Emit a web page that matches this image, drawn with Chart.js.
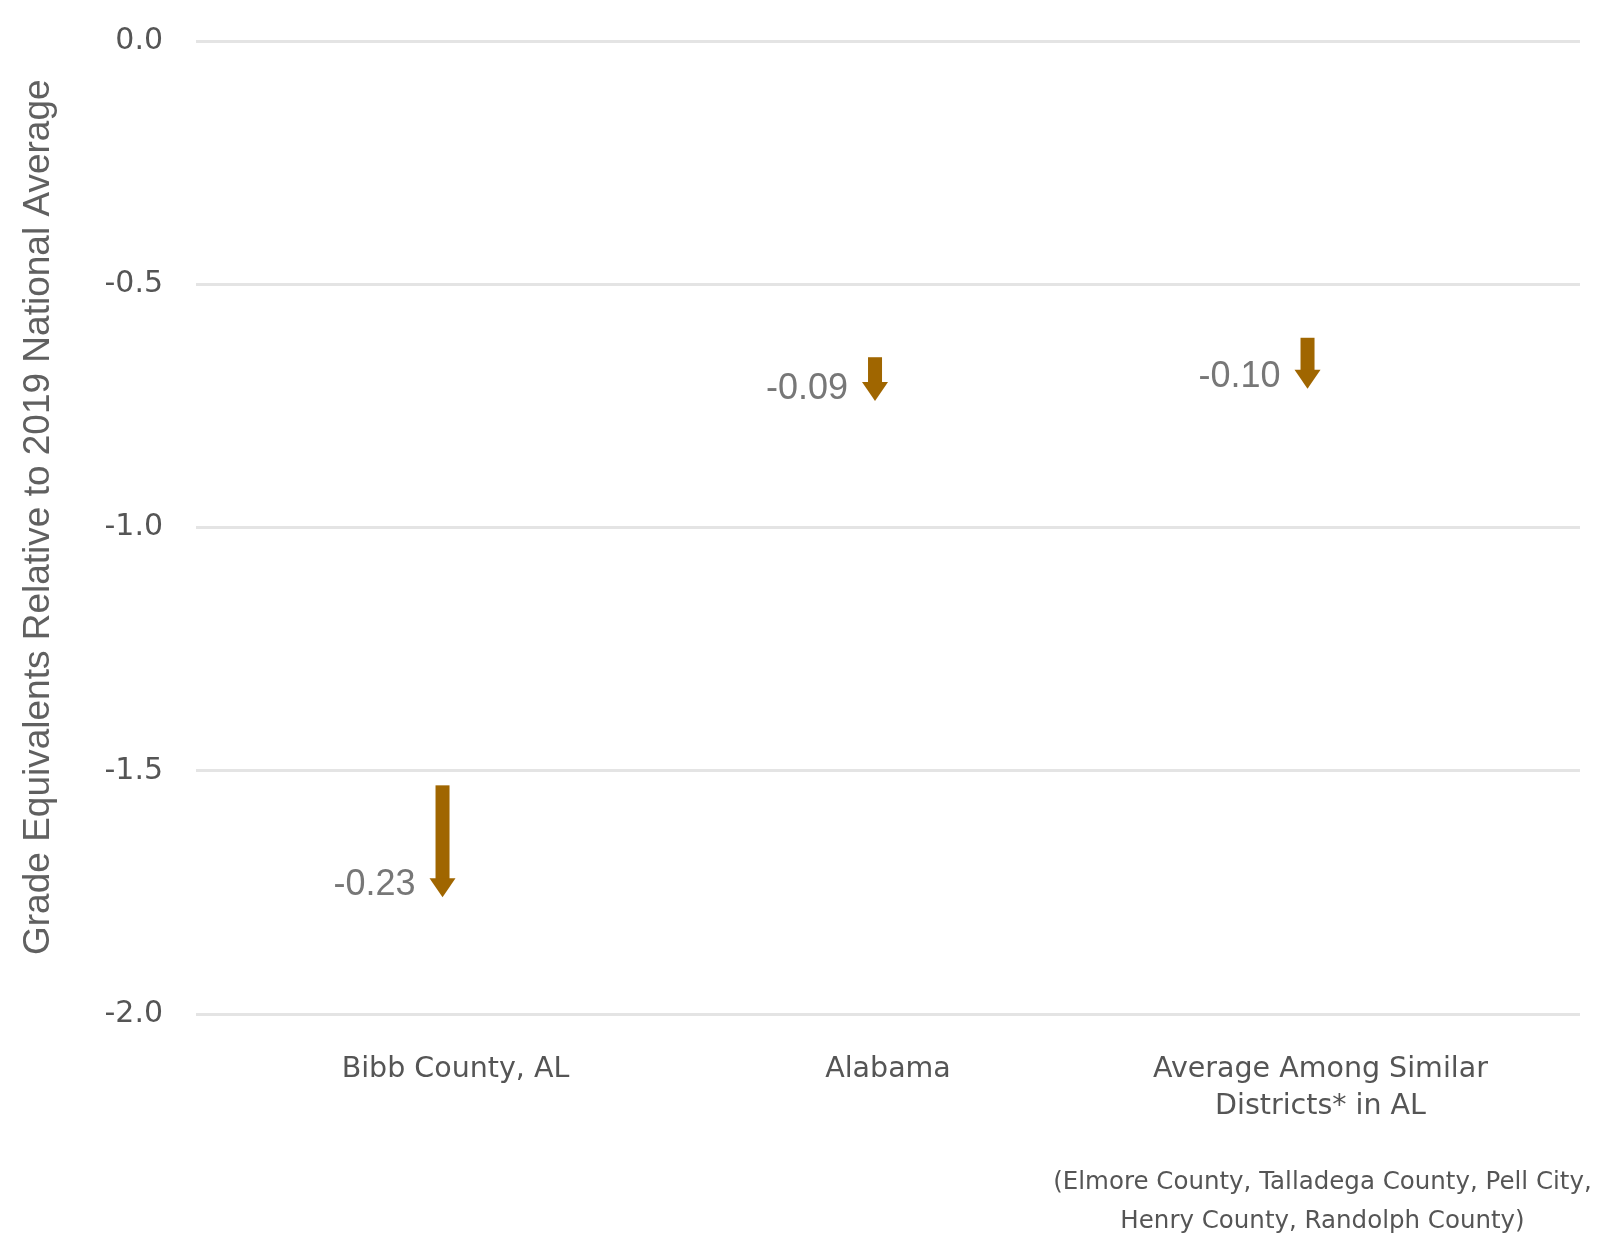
<!DOCTYPE html>
<html>
<head>
<meta charset="utf-8">
<script src="https://cdn.jsdelivr.net/npm/chart.js@4.4.1/dist/chart.umd.min.js"></script>
<style>
  html, body { margin: 0; padding: 0; background: #fff; }
  #wrap { width: 1600px; height: 1234px; }
</style>
</head>
<body>
<div id="wrap"><canvas id="chart"></canvas></div>
<script>
// data
const categories = ['Bibb County, AL', 'Alabama', ['Average Among Similar', 'Districts* in AL']];
const categoryTicks = [1, 2, 3];
const arrowX = [0.97, 1.97, 2.97];
const startValues = [-1.53, -0.65, -0.61];
const endValues = [-1.76, -0.74, -0.715];
const changeLabels = ['-0.23', '-0.09', '-0.10'];
const yTicks = [0, -0.5, -1.0, -1.5, -2.0];
const footnote = ['(Elmore County, Talladega County, Pell City,', 'Henry County, Randolph County)'];

const ARROW_COLOR = '#a06600';
const HEAD_LEN = 19;
const HEAD_W = 26;

// bar element drawn as a down arrow (shaft + triangular head)
class ArrowElement extends Chart.BarElement {
  draw(ctx) {
    const { x, y, base, width } = this.getProps(['x', 'y', 'base', 'width']);
    const tail = Math.min(y, base);
    const tip = Math.max(y, base);
    ctx.save();
    ctx.fillStyle = this.options.backgroundColor;
    ctx.fillRect(x - width / 2, tail, width, tip - HEAD_LEN - tail + 1);
    ctx.beginPath();
    ctx.moveTo(x - HEAD_W / 2, tip - HEAD_LEN);
    ctx.lineTo(x + HEAD_W / 2, tip - HEAD_LEN);
    ctx.lineTo(x, tip);
    ctx.closePath();
    ctx.fill();
    ctx.restore();
  }
}
ArrowElement.id = 'arrowShape';

class ArrowController extends Chart.BarController {}
ArrowController.id = 'arrow';
ArrowController.defaults = { ...Chart.BarController.defaults, dataElementType: 'arrowShape' };

Chart.register(ArrowElement, ArrowController);

const changeLabelPlugin = {
  id: 'changeLabels',
  afterDatasetsDraw(chart) {
    const meta = chart.getDatasetMeta(0);
    const y = chart.scales.y;
    const ctx = chart.ctx;
    ctx.save();
    ctx.font = '36px "Liberation Sans", Arial, sans-serif';
    ctx.fillStyle = '#777777';
    ctx.textAlign = 'right';
    ctx.textBaseline = 'middle';
    meta.data.forEach((bar, i) => {
      const tip = y.getPixelForValue(endValues[i]);
      ctx.fillText(changeLabels[i], bar.x - 27, tip - 12);
    });
    ctx.restore();
  }
};

const footnotePlugin = {
  id: 'footnote',
  afterDraw(chart) {
    const ctx = chart.ctx;
    const cx = chart.scales.x.getPixelForValue(categoryTicks[2]) + 2;
    const top = chart.chartArea.bottom;
    ctx.save();
    ctx.font = '24.5px "DejaVu Sans", sans-serif';
    ctx.fillStyle = '#555555';
    ctx.textAlign = 'center';
    ctx.textBaseline = 'middle';
    footnote.forEach((line, i) => ctx.fillText(line, cx, top + 169 + i * 39));
    ctx.restore();
  }
};

new Chart(document.getElementById('chart'), {
  type: 'arrow',
  data: {
    datasets: [{
      label: 'Change',
      data: arrowX.map((x, i) => ({ x: x, y: [startValues[i], endValues[i]] })),
      backgroundColor: ARROW_COLOR,
      barThickness: 14
    }]
  },
  options: {
    responsive: true,
    maintainAspectRatio: false,
    animation: false,
    layout: { padding: { left: 17, right: 20, top: 41, bottom: 0 } },
    plugins: {
      legend: { display: false },
      tooltip: { enabled: false }
    },
    scales: {
      x: {
        type: 'linear',
        min: 0.4,
        max: 3.6,
        offset: false,
        grid: { display: false },
        border: { display: false },
        afterBuildTicks: scale => { scale.ticks = categoryTicks.map(v => ({ value: v })); },
        afterFit: scale => { scale.height = 220; },
        ticks: {
          autoSkip: false,
          maxRotation: 0,
          padding: 29,
          color: '#555555',
          font: { family: '"DejaVu Sans", sans-serif', size: 28.5, lineHeight: 1.3 },
          callback: v => categories[categoryTicks.indexOf(v)]
        }
      },
      y: {
        min: -2,
        max: 0,
        afterBuildTicks: scale => { scale.ticks = yTicks.map(v => ({ value: v })); },
        afterFit: scale => {
          scale.width = 179;
          scale.paddingTop = 0;
          scale.paddingBottom = 0;
        },
        grid: { color: '#e4e4e4', lineWidth: 3, drawTicks: false },
        border: { display: false },
        ticks: {
          padding: 33,
          color: '#555555',
          font: { family: '"DejaVu Sans", sans-serif', size: 30 },
          callback: v => v.toFixed(1)
        },
        title: {
          display: true,
          text: '  Grade Equivalents Relative to 2019 National Average',
          color: '#606060',
          padding: 0,
          font: { family: '"Liberation Sans", Arial, sans-serif', size: 37 }
        }
      }
    }
  },
  plugins: [changeLabelPlugin, footnotePlugin]
});
</script>
</body>
</html>
